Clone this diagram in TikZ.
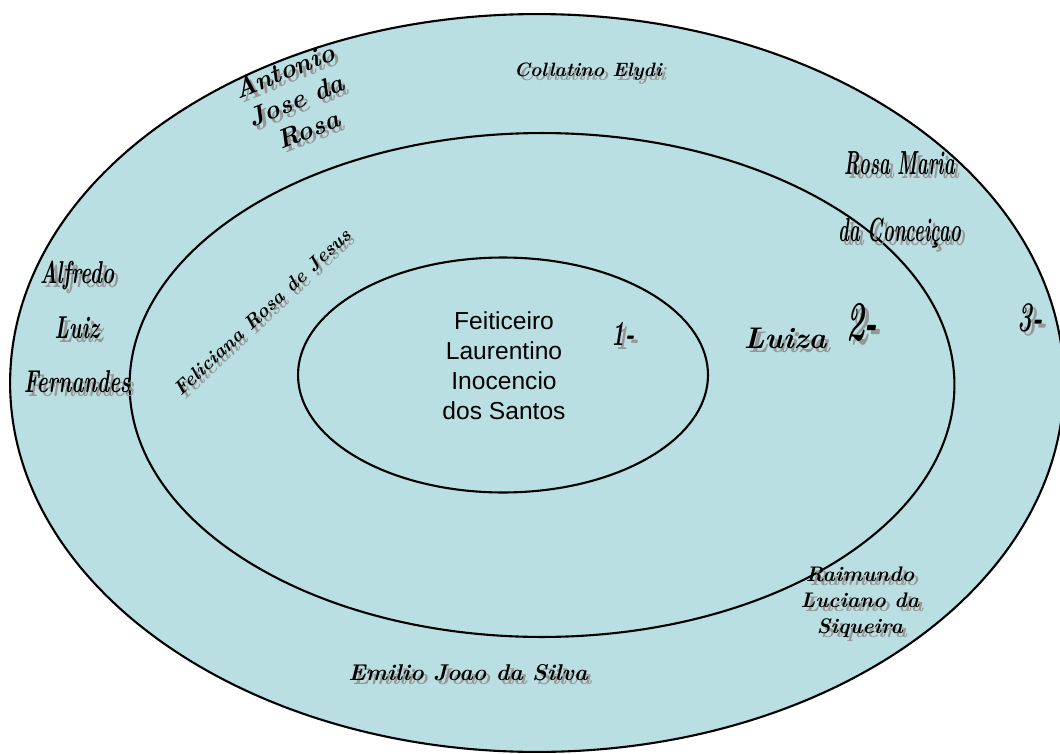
\documentclass[tikz,border=0pt]{standalone}
\usepackage{fontspec}
\usepackage{tikz}
\usetikzlibrary{shapes.geometric}
\newfontfamily\arialfont{Liberation Sans}
\definecolor{lagoon}{RGB}{185,223,227}
\definecolor{shadowgray}{RGB}{150,150,150}
\tikzset{
    ring/.style={ellipse, draw=black, line width=1.2pt, inner sep=0pt}, % the three circles
    script/.style={font=\bfseries\itshape, align=center, inner sep=0pt},
    shade/.style={script, text=shadowgray},
}
% name with its grey drop shadow
\newcommand{\scriptname}[4][]{%
    \node[shade, #1] at ([shift={(4,4)}]#3) {#4};
    \node[script, #1] (#2) at (#3) {#4};
}
\newcommand{\narrow}[2][0.7]{\scalebox{#1}[1]{#2}}

\begin{document}
\begin{tikzpicture}[x=0.02cm, y=-0.02cm]

    \useasboundingbox (0,0) rectangle (1060,753);

    % --- Rings ---
    \node[ring, fill=lagoon, minimum width=21.08cm, minimum height=14.76cm] (outer) at (537,383) {};
    \node[ring, minimum width=16.5cm, minimum height=10.08cm] (middle) at (542,385) {};
    \node[ring, minimum width=8.2cm, minimum height=4.7cm] (inner) at (503,375) {};

    % --- Centre ---
    \node[font=\arialfont\fontsize{14}{17}\selectfont, align=center] (santos) at (504,366)
        {Feiticeiro\\Laurentino\\Inocencio\\dos Santos};

    % --- Ring 1 ---
    \scriptname[font=\bfseries\itshape\fontsize{20}{20}\selectfont]{one}{623,334}{\narrow[0.65]{1-}}

    % --- Ring 2 ---
    \scriptname[rotate=43, font=\bfseries\itshape\fontsize{11}{11}\selectfont]{feliciana}{262,312}{Feliciana Rosa de Jesus}
    \scriptname[font=\bfseries\itshape\fontsize{17}{17}\selectfont]{luiza}{785,338}{Luiza}
    \scriptname[font=\bfseries\itshape\fontsize{32}{32}\selectfont]{two}{862,322}{\narrow[0.55]{2-}}

    % --- Ring 3 ---
    \scriptname[rotate=22, font=\bfseries\itshape\fontsize{15}{18}\selectfont]{antonio}{296,100}{Antonio\\Jose da\\Rosa}
    \scriptname[font=\bfseries\itshape\fontsize{11}{11}\selectfont]{collatino}{588,72}{Collatino Elydi}
    \scriptname[font=\bfseries\itshape\fontsize{19}{38}\selectfont]{rosamaria}{900,200}{\narrow[0.55]{Rosa Maria}\\\narrow[0.55]{da Conceiçao}}
    \scriptname[font=\bfseries\itshape\fontsize{18}{31}\selectfont]{alfredo}{77,327}{\narrow[0.65]{Alfredo}\\\narrow[0.65]{Luiz}\\\narrow[0.65]{Fernandes}}
    \scriptname[font=\bfseries\itshape\fontsize{24}{24}\selectfont]{three}{1030,318}{\narrow[0.6]{3-}}
    \scriptname[font=\bfseries\itshape\fontsize{12}{14.8}\selectfont]{raimundo}{860,602}{Raimundo\\Luciano da\\Siqueira}
    \scriptname[font=\bfseries\itshape\fontsize{13}{13}\selectfont]{emilio}{468,673}{Emilio Joao da Silva}

\end{tikzpicture}
\end{document}
